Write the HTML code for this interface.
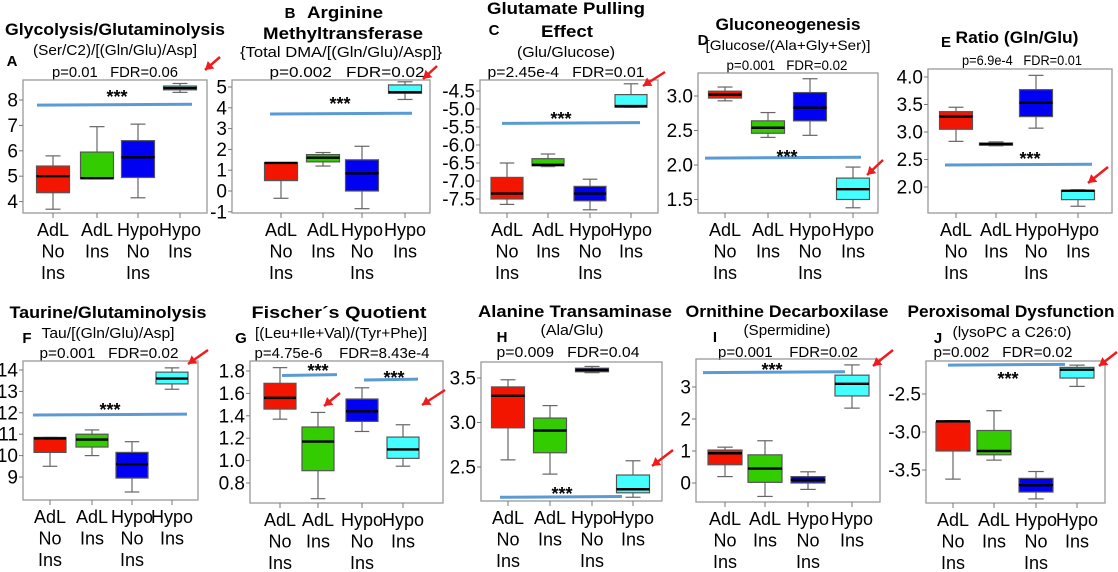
<!DOCTYPE html>
<html><head><meta charset="utf-8">
<style>
html,body{margin:0;padding:0;background:#fff;}
svg{display:block;font-family:"Liberation Sans",Arial,sans-serif;}
text{white-space:pre;}
</style></head>
<body>
<svg id="fig" width="1118" height="572" viewBox="0 0 1118 572" xmlns="http://www.w3.org/2000/svg" xml:space="preserve"></svg>
<script>
// ---- data ----
const groups = ["AdL No Ins","AdL Ins","Hypo No Ins","Hypo Ins"];
const groupLines = [["AdL","No","Ins"],["AdL","Ins"],["Hypo","No","Ins"],["Hypo","Ins"]];
const colors = ["#f41500","#33cc00","#0000f2","#44ffff"];

const A_lo=[3.7,4.9,4.15,8.3], A_q1=[4.35,4.9,4.95,8.4], A_med=[5.0,4.92,5.75,8.47], A_q3=[5.4,5.95,6.4,8.55], A_hi=[5.8,6.95,7.05,8.65];
const A_ticks=[4,5,6,7,8], A_tickLabels=["4","5","6","7","8"];
const B_lo=[-0.35,1.2,-0.85,4.4], B_q1=[0.5,1.4,0,4.7], B_med=[1.35,1.6,0.85,4.75], B_q3=[1.35,1.75,1.5,5.1], B_hi=[1.35,1.85,2.15,5.25];
const B_ticks=[-1,0,1,2,3,4,5], B_tickLabels=["-1","0","1","2","3","4","5"];
const C_lo=[-7.65,-6.6,-7.8,-4.95], C_q1=[-7.5,-6.58,-7.55,-4.95], C_med=[-7.35,-6.55,-7.35,-4.92], C_q3=[-6.9,-6.38,-7.15,-4.6], C_hi=[-6.5,-6.25,-6.95,-4.3];
const C_ticks=[-7.5,-7,-6.5,-6,-5.5,-5,-4.5], C_tickLabels=["-7.5","-7.0","-6.5","-6.0","-5.5","-5.0","-4.5"];
const D_lo=[2.93,2.4,2.43,1.38], D_q1=[2.97,2.46,2.64,1.5], D_med=[3.02,2.54,2.83,1.65], D_q3=[3.07,2.64,3.05,1.81], D_hi=[3.13,2.76,3.25,1.97];
const D_ticks=[1.5,2.0,2.5,3.0], D_tickLabels=["1.5","2.0","2.5","3.0"];
const E_lo=[2.83,2.75,3.07,1.65], E_q1=[3.05,2.76,3.28,1.77], E_med=[3.28,2.78,3.53,1.93], E_q3=[3.37,2.80,3.77,1.94], E_hi=[3.45,2.82,4.03,1.95];
const E_ticks=[2.0,2.5,3.0,3.5,4.0], E_tickLabels=["2.0","2.5","3.0","3.5","4.0"];
const F_lo=[9.5,10,8.3,13.1], F_q1=[10.15,10.4,8.95,13.35], F_med=[10.8,10.75,9.6,13.6], F_q3=[10.85,11,10.15,13.9], F_hi=[10.85,11.2,10.65,14.1];
const F_ticks=[9,10,11,12,13,14], F_tickLabels=["9","10","11","12","13","14"];
const G_lo=[1.37,0.66,1.26,0.95], G_q1=[1.46,0.91,1.35,1.02], G_med=[1.56,1.17,1.44,1.1], G_q3=[1.69,1.3,1.55,1.21], G_hi=[1.83,1.43,1.65,1.32];
const G_ticks=[0.8,1.0,1.2,1.4,1.6,1.8], G_tickLabels=["0.8","1.0","1.2","1.4","1.6","1.8"];
const H_lo=[2.58,2.42,3.56,2.16], H_q1=[2.94,2.66,3.57,2.21], H_med=[3.3,2.91,3.59,2.25], H_q3=[3.4,3.05,3.61,2.41], H_hi=[3.48,3.19,3.63,2.57];
const H_ticks=[2.5,3.0,3.5], H_tickLabels=["2.5","3.0","3.5"];
const I_lo=[0.2,-0.42,-0.2,2.34], I_q1=[0.57,0.02,0,2.72], I_med=[0.93,0.45,0.1,3.1], I_q3=[1.03,0.88,0.2,3.37], I_hi=[1.12,1.32,0.35,3.69];
const I_ticks=[0,1,2,3], I_tickLabels=["0","1","2","3"];
const J_lo=[-3.62,-3.37,-3.88,-2.4], J_q1=[-3.25,-3.3,-3.79,-2.29], J_med=[-2.86,-3.25,-3.7,-2.18], J_q3=[-2.87,-2.98,-3.61,-2.15], J_hi=[-2.85,-2.72,-3.52,-2.12];
const J_ticks=[-3.5,-3.0,-2.5], J_tickLabels=["-3.5","-3.0","-2.5"];

// ---- layout ----
const svg=document.getElementById('fig');
const NS='http://www.w3.org/2000/svg';
function mk(tag,attrs,parent){const e=document.createElementNS(NS,tag);for(const k in attrs)e.setAttribute(k,attrs[k]);(parent||svg).appendChild(e);return e;}
function txt(s,x,y,size,bold,w,parent,anchor){
  const a={x:x,y:y,'font-size':size,'text-anchor':anchor||'middle',fill:'#000'};
  if(bold)a['font-weight']='bold';
  if(w){a.textLength=w;a.lengthAdjust='spacingAndGlyphs';}
  const t=mk('text',a,parent);t.textContent=s;return t;
}
function arrow(x1,y1,x2,y2,parent,name){
  const g=mk('g',{},parent);
  
  
  mk('line',{x1:x1,y1:y1,x2:x2,y2:y2,stroke:'#ee1c1c','stroke-width':2.5},g);
  const ang=Math.atan2(y2-y1,x2-x1),L=8,W=5;
  const bx=x2-L*Math.cos(ang),by=y2-L*Math.sin(ang);
  const px=-Math.sin(ang)*W,py=Math.cos(ang)*W;
  mk('polygon',{points:`${x2},${y2} ${bx+px},${by+py} ${bx-px},${by-py}`,fill:'#ee1c1c'},g);
}

const panels=[
 {id:'a',lo:A_lo,q1:A_q1,med:A_med,q3:A_q3,hi:A_hi,ticks:A_ticks,tl:A_tickLabels,x0:23,x1:207,y0:80,y1:213,vRef:8,pRef:100,ppu:25.4,cx:[53,97,138,180],bw:33,
  sig:[[7.8,37,192,117,103]],arrows:[[220,57,205,70]],
  texts:[["Glycolysis/Glutaminolysis",115,35,17,1,220,'title'],["(Ser/C2)/[(Gln/Glu)/Asp]",115,55,15,0,164,'subtitle'],["A",12,66,15,1,0,'panel-letter'],["p=0.01   FDR=0.06",115,77,15,0,126,'p-value']]},
 {id:'b',lo:B_lo,q1:B_q1,med:B_med,q3:B_q3,hi:B_hi,ticks:B_ticks,tl:B_tickLabels,x0:232,x1:430,y0:80,y1:213,vRef:5,pRef:87,ppu:20.8,cx:[281,323,362,405],bw:33,
  sig:[[3.7,270,412,340,110]],arrows:[[437,66,423,79]],
  texts:[["B",290,18,15,1,0,'panel-letter'],["Arginine",345,18,17,1,76,'title'],["Methyltransferase",343,39,17,1,160,'title-line2'],["{Total DMA/[(Gln/Glu)/Asp]}",341,57,15,0,202,'subtitle'],["p=0.002   FDR=0.02",347,77,15,0,155,'p-value']]},
 {id:'c',lo:C_lo,q1:C_q1,med:C_med,q3:C_q3,hi:C_hi,ticks:C_ticks,tl:C_tickLabels,x0:480,x1:658,y0:80,y1:213,vRef:-4.5,pRef:91,ppu:36,cx:[507,548,590,631],bw:32,
  sig:[[-5.4,502,640,561,125]],arrows:[[665,72,643,86]],
  texts:[["Glutamate Pulling",566,14,17,1,158,'title'],["C",494,35,15,1,0,'panel-letter'],["Effect",567,37,17,1,52,'title-line2'],["(Glu/Glucose)",566,57,15,0,98,'subtitle'],["p=2.45e-4   FDR=0.01",566,77,15,0,157,'p-value']]},
 {id:'d',lo:D_lo,q1:D_q1,med:D_med,q3:D_q3,hi:D_hi,ticks:D_ticks,tl:D_tickLabels,x0:698,x1:878,y0:73,y1:213,vRef:3,pRef:96,ppu:69,cx:[725,768,810,853],bw:33,
  sig:[[2.1,705,861,787,163]],arrows:[[883,160,867,175]],
  texts:[["Gluconeogenesis",788,30,17,1,145,'title'],["D",703,45,15,1,0,'panel-letter'],["[Glucose/(Ala+Gly+Ser)]",788,50,14,0,165,'subtitle'],["p=0.001   FDR=0.02",787,70,14,0,121,'p-value']]},
 {id:'e',lo:E_lo,q1:E_q1,med:E_med,q3:E_q3,hi:E_hi,ticks:E_ticks,tl:E_tickLabels,x0:928,x1:1112,y0:69,y1:213,vRef:4,pRef:77,ppu:55,cx:[956,996,1036,1078],bw:33,
  sig:[[2.4,945,1092,1030,165]],arrows:[[1108,167,1088,183]],
  texts:[["E",946,47,15,1,0,'panel-letter'],["Ratio (Gln/Glu)",1017,43,17,1,123,'title'],["p=6.9e-4   FDR=0.01",1022,65,14,0,120,'p-value']]},
 {id:'f',lo:F_lo,q1:F_q1,med:F_med,q3:F_q3,hi:F_hi,ticks:F_ticks,tl:F_tickLabels,x0:23,x1:198,y0:361,y1:500,vRef:14,pRef:370,ppu:21.4,cx:[50,92,132,172],bw:32,
  sig:[[11.9,33,187,110,416]],arrows:[[208,350,188,364]],
  texts:[["Taurine/Glutaminolysis",108,318,17,1,197,'title'],["F",27,343,15,1,0,'panel-letter'],["Tau/[(Gln/Glu)/Asp]",108,338,15,0,133,'subtitle'],["p=0.001   FDR=0.02",109,358,15,0,139,'p-value']]},
 {id:'g',lo:G_lo,q1:G_q1,med:G_med,q3:G_q3,hi:G_hi,ticks:G_ticks,tl:G_tickLabels,x0:250,x1:443,y0:361,y1:503,vRef:1.8,pRef:371,ppu:112,cx:[280,318,362,403],bw:32,
  sig:[[1.76,282,337,318,377],[1.72,364,418,394,384]],arrows:[[340,393,324,406],[445,390,422,405]],
  texts:[["Fischer´s Quotient",339,318,17,1,175,'title'],["G",241,343,15,1,0,'panel-letter'],["[(Leu+Ile+Val)/(Tyr+Phe)]",341,338,15,0,172,'subtitle'],["p=4.75e-6    FDR=8.43e-4",342,358,15,0,175,'p-value']]},
 {id:'h',lo:H_lo,q1:H_q1,med:H_med,q3:H_q3,hi:H_hi,ticks:H_ticks,tl:H_tickLabels,x0:481,x1:662,y0:362,y1:501,vRef:3.5,pRef:378,ppu:89,cx:[508,550,592,633],bw:33,
  sig:[[2.16,500,622,562,500]],arrows:[[673,450,652,466]],
  texts:[["Alanine Transaminase",575,317,17,1,194,'title'],["H",502,342,15,1,0,'panel-letter'],["(Ala/Glu)",572,335,15,0,63,'subtitle'],["p=0.009   FDR=0.04",568,357,15,0,143,'p-value']]},
 {id:'i',lo:I_lo,q1:I_q1,med:I_med,q3:I_q3,hi:I_hi,ticks:I_ticks,tl:I_tickLabels,x0:696,x1:880,y0:359,y1:502,vRef:3,pRef:387,ppu:32,cx:[725,765,808,852],bw:34,
  sig:[[3.45,703,845,772,376]],arrows:[[893,350,873,366]],
  texts:[["Ornithine Decarboxilase",787,317,17,1,203,'title'],["I",715,342,15,1,0,'panel-letter'],["(Spermidine)",787,335,15,0,87,'subtitle'],["p=0.001    FDR=0.02",788,357,15,0,140,'p-value']]},
 {id:'j',lo:J_lo,q1:J_q1,med:J_med,q3:J_q3,hi:J_hi,ticks:J_ticks,tl:J_tickLabels,x0:926,x1:1105,y0:361,y1:503,vRef:-2.5,pRef:394,ppu:76,cx:[953,994,1036,1077],bw:34,
  sig:[[-2.12,948,1065,1008,385]],arrows:[[1117,352,1099,366]],
  texts:[["Peroxisomal Dysfunction",1011,317,17,1,207,'title'],["J",938,343,15,1,0,'panel-letter'],["(lysoPC a C26:0)",1012,337,15,0,119,'subtitle'],["p=0.002   FDR=0.02",1003,357,15,0,139,'p-value']]}
];

panels.forEach(p=>{
  const y=v=>p.pRef+(p.vRef-v)*p.ppu;
  const g=mk('g',{});
  
  
  p.texts.forEach(t=>{
    const e=txt(t[0],t[1],t[2],t[3],t[4],t[5]||null,g);
    
    
  });
  const fr=mk('rect',{x:p.x0,y:p.y0,width:p.x1-p.x0,height:p.y1-p.y0,fill:'none',stroke:'#999','stroke-width':1.3},g);
  
  
  p.ticks.forEach((v,i)=>{
    mk('line',{x1:p.x0-4,x2:p.x0,y1:y(v),y2:y(v),stroke:'#777','stroke-width':1},g);
    const t=txt(p.tl[i],p.x0-5,y(v)+6.5,19,0,null,g,'end');
    
    
  });
  p.cx.forEach((cx,i)=>{
    mk('line',{x1:cx,x2:cx,y1:p.y1,y2:p.y1+5,stroke:'#777','stroke-width':1},g);
    groupLines[i].forEach((s,k)=>{
      const t=txt(s,cx,p.y1+23+k*21.5,18,0,null,g);
      
      
    });
  });
  groups.forEach((gn,i)=>{
    const cx=p.cx[i],hw=p.bw/2;
    const bg=mk('g',{},g);
    
    
    mk('line',{x1:cx,x2:cx,y1:y(p.hi[i]),y2:y(p.q3[i]),stroke:'#666','stroke-width':1.2},bg);
    mk('line',{x1:cx,x2:cx,y1:y(p.q1[i]),y2:y(p.lo[i]),stroke:'#666','stroke-width':1.2},bg);
    mk('line',{x1:cx-hw/2.2,x2:cx+hw/2.2,y1:y(p.hi[i]),y2:y(p.hi[i]),stroke:'#666','stroke-width':1.2},bg);
    mk('line',{x1:cx-hw/2.2,x2:cx+hw/2.2,y1:y(p.lo[i]),y2:y(p.lo[i]),stroke:'#666','stroke-width':1.2},bg);
    const top=y(p.q3[i]),bot=y(p.q1[i]);
    mk('rect',{x:cx-hw,y:top,width:p.bw,height:Math.max(bot-top,2),fill:colors[i],stroke:'#555','stroke-width':1.2},bg);
    mk('line',{x1:cx-hw,x2:cx+hw,y1:y(p.med[i]),y2:y(p.med[i]),stroke:'#000','stroke-width':2.4},bg);
  });
  p.sig.forEach(s=>{
    const l=mk('line',{x1:s[1],x2:s[2],y1:y(s[0]),y2:y(s[0])-0.8,stroke:'#5b9bd5','stroke-width':3},g);
    
    
    const t=txt('***',s[3],s[4],18,1,null,g);
    
    
  });
  p.arrows.forEach(a=>arrow(a[0],a[1],a[2],a[3],g,'highlight-arrow'));
});
</script>
</body></html>
